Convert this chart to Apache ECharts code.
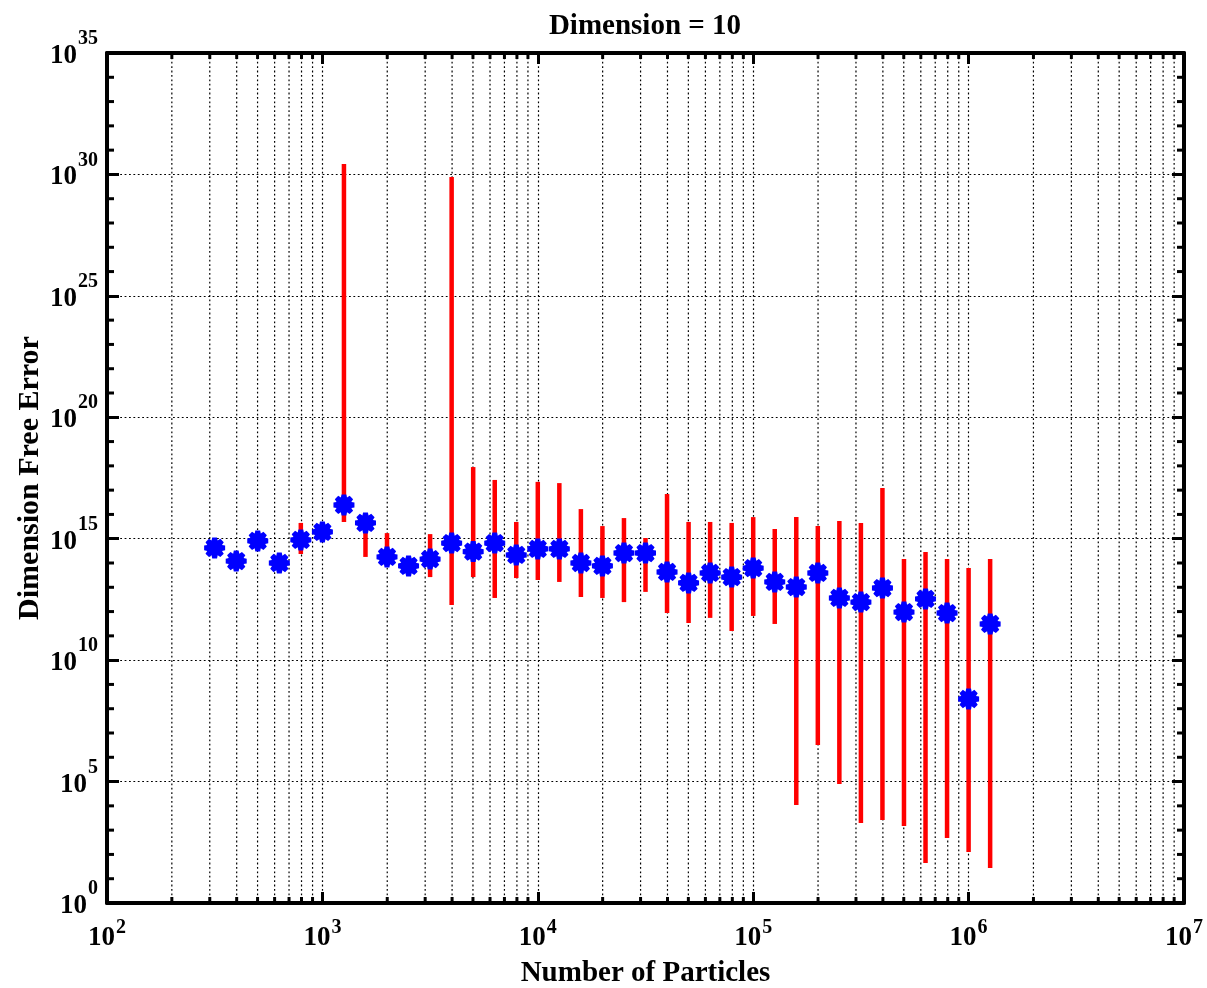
<!DOCTYPE html>
<html>
<head>
<meta charset="utf-8">
<script src="https://cdn.jsdelivr.net/npm/echarts@6/dist/echarts.min.js"></script>
<style>
  html, body { margin: 0; padding: 0; background: #ffffff; }
  #chart { width: 1207px; height: 988px; }
</style>
</head>
<body>
<div id="chart"></div>
<script>
// Number of particles for each run
const particles = [
  316, 398, 501, 631, 794, 1000, 1259, 1585, 1995, 2512,
  3162, 3981, 5012, 6310, 7943, 10000, 12589, 15849, 19953, 25119,
  31623, 39811, 50119, 63096, 79433, 100000, 125893, 158489, 199526, 251189,
  316228, 398107, 501187, 630957, 794328, 1000000, 1258925
];
// log10 of the mean dimension-free error
const meanLog10 = [
  14.62, 14.08, 14.91, 14.00, 14.95, 15.28, 16.39, 15.65, 14.25, 13.88,
  14.16, 14.82, 14.47, 14.82, 14.33, 14.58, 14.58, 14.00, 13.88, 14.41,
  14.41, 13.63, 13.18, 13.59, 13.42, 13.79, 13.22, 13.01, 13.59, 12.56,
  12.39, 12.97, 11.98, 12.52, 11.94, 8.40, 11.49
];
// log10 of the lower end of each error bar
const lowerLog10 = [
  14.50, 13.95, 14.80, 13.90, 14.37, 15.15, 15.69, 14.25, 13.90, 13.78,
  13.42, 12.27, 13.42, 12.56, 13.38, 13.30, 13.22, 12.60, 12.56, 12.39,
  12.81, 11.94, 11.53, 11.74, 11.20, 11.82, 11.49, 4.04, 6.51, 4.90,
  3.29, 3.42, 3.17, 1.65, 2.68, 2.10, 1.44
];
// log10 of the upper end of each error bar
const upperLog10 = [
  14.75, 14.20, 15.05, 14.10, 15.65, 15.40, 30.43, 15.80, 15.23, 14.00,
  15.19, 29.89, 17.95, 17.42, 15.69, 17.34, 17.29, 16.22, 15.52, 15.85,
  15.03, 16.84, 15.69, 15.69, 15.65, 15.89, 15.40, 15.89, 15.52, 15.73,
  15.65, 17.09, 14.16, 14.45, 14.16, 13.79, 14.16
];
// Decade exponents shown as tick labels
const xTickExponents = [2, 3, 4, 5, 6, 7];
const yTickExponents = [0, 5, 10, 15, 20, 25, 30, 35];

const X_MIN = Math.pow(10, xTickExponents[0]);
const X_MAX = Math.pow(10, xTickExponents[xTickExponents.length - 1]);
const Y_MIN = Math.pow(10, yTickExponents[0]);
const Y_MAX = Math.pow(10, yTickExponents[yTickExponents.length - 1]);

const FONT = '"Liberation Serif", "Times New Roman", serif';

const meanData = particles.map((n, i) => [n, Math.pow(10, meanLog10[i])]);
const barData = particles.map((n, i) => [n, Math.pow(10, lowerLog10[i]), Math.pow(10, upperLog10[i])]);

// Minor ticks: 2..9 x 10^k along x, every decade along y
const xMinor = [];
for (let e = xTickExponents[0]; e < xTickExponents[xTickExponents.length - 1]; e++) {
  for (let m = 2; m <= 9; m++) xMinor.push([m * Math.pow(10, e), Y_MIN]);
}
const yMinor = [];
for (let e = yTickExponents[0] + 1; e < yTickExponents[yTickExponents.length - 1]; e++) {
  if (e % 5 !== 0) yMinor.push([X_MIN, Math.pow(10, e)]);
}

// Eight-armed asterisk marker, drawn thick
function asteriskPath() {
  const pts = [];
  const R = 50, r = 37, half = 13 * Math.PI / 180;
  for (let k = 0; k < 8; k++) {
    const a = k * Math.PI / 4;
    pts.push([R * Math.cos(a - half), R * Math.sin(a - half)]);
    pts.push([R * Math.cos(a + half), R * Math.sin(a + half)]);
    const b = a + Math.PI / 8;
    pts.push([r * Math.cos(b), r * Math.sin(b)]);
  }
  return 'path://M' + pts.map(p => (p[0] + 50).toFixed(2) + ' ' + (p[1] + 50).toFixed(2)).join(' L') + ' Z';
}

function powerLabel(value) {
  const e = Math.round(Math.log10(value));
  return '{b|10}{s|' + e + '}';
}

// "10" with a raised exponent; the exponent sits higher on the y axis
function powerRich(raise) {
  return {
    b: { fontFamily: FONT, fontWeight: 'bold', fontSize: 27, color: '#000', lineHeight: 30 },
    s: { fontFamily: FONT, fontWeight: 'bold', fontSize: 20, color: '#000', lineHeight: 20, padding: [0, 0, raise, 1] }
  };
}

const dotted = { color: '#000', width: 1.2, type: [1.8, 2.6] };
const nameFont = { fontFamily: FONT, fontWeight: 'bold', color: '#000' };

const chart = echarts.init(document.getElementById('chart'), null, { renderer: 'canvas' });

chart.setOption({
  backgroundColor: '#ffffff',
  animation: false,
  title: {
    text: 'Dimension = 10',
    left: 640, textAlign: 'center', top: 7,
    textStyle: Object.assign({ fontSize: 29 }, nameFont)
  },
  grid: { left: 107, right: 23, top: 53, bottom: 85, outerBoundsMode: 'none', containLabel: false },
  xAxis: [{
    type: 'log', logBase: 10, min: X_MIN, max: X_MAX, interval: 1,
    position: 'bottom',
    name: 'Number of Particles', nameLocation: 'middle', nameGap: 56, nameMoveOverlap: false,
    nameTextStyle: Object.assign({ fontSize: 29 }, nameFont),
    axisLine: { show: true, onZero: false, lineStyle: { color: '#000', width: 4 } },
    axisTick: { show: true, inside: true, length: 11, lineStyle: { color: '#000', width: 3 } },
    axisLabel: { margin: 20, formatter: powerLabel, rich: powerRich(20) },
    splitLine: { show: true, lineStyle: dotted }
  }, {
    type: 'log', logBase: 10, min: X_MIN, max: X_MAX, interval: 1,
    position: 'top',
    axisLine: { show: true, onZero: false, lineStyle: { color: '#000', width: 4 } },
    axisTick: { show: true, inside: true, length: 11, lineStyle: { color: '#000', width: 3 } },
    axisLabel: { show: false },
    splitLine: { show: false }
  }],
  yAxis: [{
    type: 'log', logBase: 10, min: Y_MIN, max: Y_MAX, interval: 5,
    position: 'left',
    name: 'Dimension Free Error', nameLocation: 'middle', nameGap: 62, nameMoveOverlap: false,
    nameTextStyle: Object.assign({ fontSize: 30 }, nameFont),
    axisLine: { show: true, onZero: false, lineStyle: { color: '#000', width: 4 } },
    axisTick: { show: true, inside: true, length: 12, lineStyle: { color: '#000', width: 3 } },
    axisLabel: { margin: 9, padding: [6, 0, 0, 0], formatter: powerLabel, rich: powerRich(34) },
    splitLine: { show: true, lineStyle: dotted }
  }, {
    type: 'log', logBase: 10, min: Y_MIN, max: Y_MAX, interval: 5,
    position: 'right',
    axisLine: { show: true, onZero: false, lineStyle: { color: '#000', width: 4 } },
    axisTick: { show: true, inside: true, length: 12, lineStyle: { color: '#000', width: 3 } },
    axisLabel: { show: false },
    splitLine: { show: false }
  }],
  series: [
    {
      // x minor grid lines with short ticks on both horizontal borders
      type: 'custom', xAxisIndex: 0, yAxisIndex: 0, z: 1, silent: true,
      data: xMinor, encode: { x: 0, y: 1 },
      renderItem: function (params, api) {
        const cs = params.coordSys;
        const px = api.coord([api.value(0), Y_MIN])[0];
        const top = cs.y, bottom = cs.y + cs.height;
        return { type: 'group', children: [
          { type: 'line', shape: { x1: px, y1: top, x2: px, y2: bottom }, style: { stroke: '#000', lineWidth: 1.2, lineDash: [1.8, 2.6] } },
          { type: 'line', shape: { x1: px, y1: bottom, x2: px, y2: bottom - 6 }, style: { stroke: '#000', lineWidth: 3 } },
          { type: 'line', shape: { x1: px, y1: top, x2: px, y2: top + 6 }, style: { stroke: '#000', lineWidth: 3 } }
        ] };
      }
    },
    {
      // y minor ticks on both vertical borders
      type: 'custom', xAxisIndex: 0, yAxisIndex: 0, z: 1, silent: true,
      data: yMinor, encode: { x: 0, y: 1 },
      renderItem: function (params, api) {
        const cs = params.coordSys;
        const py = api.coord([X_MIN, api.value(1)])[1];
        const left = cs.x, right = cs.x + cs.width;
        return { type: 'group', children: [
          { type: 'line', shape: { x1: left, y1: py, x2: left + 7, y2: py }, style: { stroke: '#000', lineWidth: 3 } },
          { type: 'line', shape: { x1: right, y1: py, x2: right - 7, y2: py }, style: { stroke: '#000', lineWidth: 3 } }
        ] };
      }
    },
    {
      // error bars
      type: 'custom', xAxisIndex: 0, yAxisIndex: 0, z: 3, silent: true,
      data: barData, encode: { x: 0, y: [1, 2] },
      renderItem: function (params, api) {
        const lo = api.coord([api.value(0), api.value(1)]);
        const hi = api.coord([api.value(0), api.value(2)]);
        return { type: 'line', shape: { x1: lo[0], y1: lo[1], x2: hi[0], y2: hi[1] },
                 style: { stroke: '#ff0000', lineWidth: 4.5 } };
      }
    },
    {
      type: 'scatter', xAxisIndex: 0, yAxisIndex: 0, z: 4,
      data: meanData,
      symbol: asteriskPath(), symbolSize: 21,
      itemStyle: { color: '#0000ff', opacity: 1 }
    }
  ]
});
</script>
</body>
</html>
